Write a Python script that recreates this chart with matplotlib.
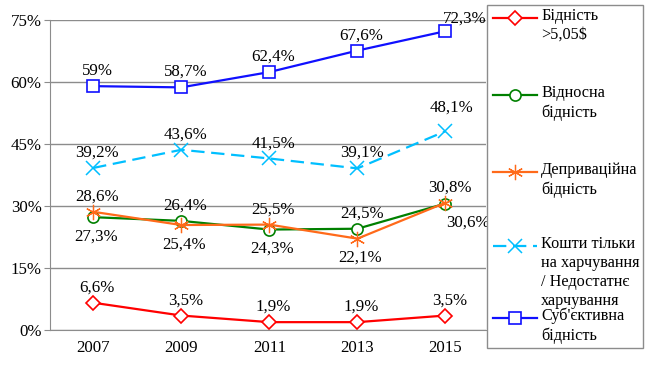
import matplotlib
matplotlib.use("Agg")
import matplotlib.pyplot as plt
from matplotlib.lines import Line2D
from matplotlib.patches import Rectangle

plt.rcParams['font.family'] = ['Liberation Serif', 'DejaVu Serif']

years = ['2007', '2009', '2011', '2013', '2015']
yticks = [0, 15, 30, 45, 60, 75]

poverty = [6.6, 3.5, 1.9, 1.9, 3.5]
relative = [27.3, 26.4, 24.3, 24.5, 30.6]
depriv = [28.6, 25.4, 25.5, 22.1, 30.8]
food = [39.2, 43.6, 41.5, 39.1, 48.1]
subjective = [59.0, 58.7, 62.4, 67.6, 72.3]

poverty_lbl = ['6,6%', '3,5%', '1,9%', '1,9%', '3,5%']
relative_lbl = ['27,3%', '26,4%', '24,3%', '24,5%', '30,6%']
depriv_lbl = ['28,6%', '25,4%', '25,5%', '22,1%', '30,8%']
food_lbl = ['39,2%', '43,6%', '41,5%', '39,1%', '48,1%']
subjective_lbl = ['59%', '58,7%', '62,4%', '67,6%', '72,3%']

legend_labels = ['Бідність\n>5,05$', 'Відносна\nбідність', 'Депривацiйна\nбідність',
                 'Кошти тільки\nна харчування\n/ Недостатнє\nхарчування', "Суб'єктивна\nбідність"]

W, H = 650, 366
fig = plt.figure(figsize=(6.5, 3.66), dpi=100)
ax = fig.add_axes([50 / W, 1 - 330 / H, (486 - 50) / W, (330 - 20) / H])

x = list(range(len(years)))
FS = 12.2
LFS = 11.7

series = [
    (poverty, poverty_lbl, '#FF0000', 'D', '-', 7, 1.2, ['a', 'a', 'a', 'a', 'a']),
    (relative, relative_lbl, '#008000', 'o', '-', 8, 1.2, ['b', 'a', 'b', 'a', 'br']),
    (depriv, depriv_lbl, '#FF6A1A', (6, 2, 0), '-', 11, 0.9, ['a', 'b', 'a', 'b', 'a']),
    (food, food_lbl, '#00BFFF', 'x', (0, (6, 3)), 10, 1.1, ['a', 'a', 'a', 'a', 'a2']),
    (subjective, subjective_lbl, '#1010FF', 's', '-', 9, 1.2, ['a', 'a', 'a', 'a', 'ar']),
]

for vals, lbls, col, mk, ls, ms, mew, pos in series:
    ax.plot(x, vals, color=col, linestyle=ls, linewidth=1.6, marker=mk, markersize=ms,
            markerfacecolor='white', markeredgecolor=col, markeredgewidth=mew, zorder=3,
            dash_capstyle='butt')
    for xi, v, t, p in zip(x, vals, lbls, pos):
        if p == 'a':
            off = (3, 11)
        elif p == 'a2':
            off = (4, 17)
        elif p == 'ar':
            off = (14, 9)
        elif p == 'b':
            off = (2, -14)
        else:  # 'br'
            off = (16, -14)
        ax.annotate(t, (xi, v), xytext=off, textcoords='offset points',
                    ha='center', va='center', fontsize=FS, zorder=4)

ax.set_xlim(-0.49, 4.46)
ax.set_ylim(0, 75)
ax.set_yticks(yticks)
ax.set_yticklabels([f'{t}%' for t in yticks], fontsize=FS)
ax.set_xticks(x)
ax.set_xticklabels(years, fontsize=FS)
ax.grid(axis='y', color='#8C8C8C', linewidth=1.0)
ax.set_axisbelow(True)
for s in ['top', 'right']:
    ax.spines[s].set_visible(False)
ax.spines['left'].set_color('#8C8C8C')
ax.spines['bottom'].set_color('#8C8C8C')
ax.tick_params(axis='y', length=4, color='#8C8C8C', pad=2)
ax.tick_params(axis='x', length=0, pad=7)

# legend (manual)
lx0, ly0, lx1, ly1 = 487, 5, 643, 348
fig.patches.append(Rectangle((lx0 / W, 1 - ly1 / H), (lx1 - lx0) / W, (ly1 - ly0) / H,
                             transform=fig.transFigure, facecolor='white',
                             edgecolor='#8C8C8C', linewidth=1.0, zorder=10))
handle_y = [18, 95, 172, 246, 318]
for (vals, lbls, col, mk, ls, ms, mew, pos), hy, lab in zip(series, handle_y, legend_labels):
    fy = 1 - hy / H
    fig.add_artist(Line2D([493 / W, 537 / W], [fy, fy], transform=fig.transFigure,
                          color=col, linestyle=ls, linewidth=1.6, zorder=11))
    fig.add_artist(Line2D([515 / W], [fy], transform=fig.transFigure, marker=mk,
                          markersize=ms, markerfacecolor='white', markeredgecolor=col,
                          markeredgewidth=mew, color=col, zorder=12))
    fig.text(541 / W, 1 - (hy - 10) / H, lab, ha='left', va='top', fontsize=LFS,
             linespacing=1.25, zorder=12)

fig.savefig('out.png', dpi=100)
